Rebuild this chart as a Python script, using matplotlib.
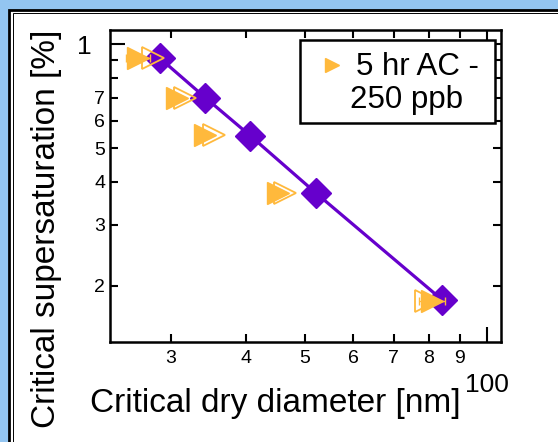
import numpy as np
import matplotlib.pyplot as plt
from matplotlib.patches import Rectangle
from matplotlib.lines import Line2D
from matplotlib.ticker import FixedLocator, FixedFormatter

plt.rcParams['font.family'] = ['Liberation Sans', 'DejaVu Sans']

W, H = 558, 442

# purple diamonds + line
dia_x = [28.8, 34.2, 40.6, 52.2, 84.3]
dia_y = [0.909, 0.700, 0.543, 0.370, 0.182]

# orange triangles (filled and open), same supersaturations
tri_y = [0.909, 0.700, 0.545, 0.372, 0.181]
tri_fill_x = [26.5, 30.7, 34.2, 45.1, 81.0]
tri_open_x = [28.0, 31.7, 35.4, 46.4, 79.2]
tri_xerr = [1.2, 0.4, 0.4, 0.5, 4.0]

x_minor = [30, 40, 50, 60, 70, 80, 90]
x_minor_labels = ['3', '4', '5', '6', '7', '8', '9']
y_minor = [0.2, 0.3, 0.4, 0.5, 0.6, 0.7, 0.8, 0.9]
y_minor_labels = ['2', '3', '4', '5', '6', '7', '', '']

purple = '#6600cc'
orange = '#ffb93c'


def fx(x):
    return x / W


def fy(y):
    return 1 - y / H


fig = plt.figure(figsize=(W / 100, H / 100), dpi=100)
fig.patch.set_facecolor('#93c5f1')

# white panel with double black frame
fig.add_artist(Rectangle((fx(9), -0.05), 1.1, fy(10) + 0.05, transform=fig.transFigure,
                         facecolor='white', edgecolor='black', lw=2.0, zorder=0))
fig.add_artist(Rectangle((fx(12.5), -0.05), 1.1, fy(13.3) + 0.05, transform=fig.transFigure,
                         facecolor='none', edgecolor='black', lw=0.7, zorder=0))

ax = fig.add_axes([fx(110), fy(342), (501 - 110) / W, (342 - 30) / H])
ax.set_facecolor('white')
ax.set_xscale('log')
ax.set_yscale('log')
ax.set_xlim(23.8, 105.35)
ax.set_ylim(0.1377, 1.098)

ax.plot(dia_x, dia_y, '-', color=purple, lw=2.3, zorder=2)
ax.plot(dia_x, dia_y, 'D', color=purple, ms=15, zorder=3)
ax.errorbar(tri_fill_x, tri_y, xerr=tri_xerr, fmt='>', color=orange, ms=16,
            capsize=3, elinewidth=1, capthick=1, zorder=4)
ax.plot(tri_open_x, tri_y, '>', mfc='none', mec=orange, ms=16, mew=1.3, zorder=4)

ax.xaxis.set_major_locator(FixedLocator([100]))
ax.xaxis.set_major_formatter(FixedFormatter(['100']))
ax.xaxis.set_minor_locator(FixedLocator(x_minor))
ax.xaxis.set_minor_formatter(FixedFormatter(x_minor_labels))
ax.yaxis.set_major_locator(FixedLocator([1]))
ax.yaxis.set_major_formatter(FixedFormatter(['1']))
ax.yaxis.set_minor_locator(FixedLocator(y_minor))
ax.yaxis.set_minor_formatter(FixedFormatter(y_minor_labels))

ax.tick_params(which='both', direction='in', top=True, right=True, width=1.5, colors='black')
ax.tick_params(which='major', length=11, labelsize=19)
ax.tick_params(which='minor', length=6, labelsize=14)
ax.tick_params(axis='x', which='major', pad=22)
ax.tick_params(axis='x', which='minor', pad=6)
ax.tick_params(axis='y', which='major', pad=13)
ax.tick_params(axis='y', which='minor', pad=3.5)
for s in ax.spines.values():
    s.set_linewidth(1.8)

fig.text(fx(275), fy(411.7), 'Critical dry diameter [nm]', ha='center', va='baseline', fontsize=24)
fig.text(fx(55), fy(229), 'Critical supersaturation [%]', ha='center', va='baseline',
         rotation=90, rotation_mode='anchor', fontsize=24)

# legend box
fig.add_artist(Rectangle((fx(300), fy(123)), (495 - 300) / W, (123 - 40) / H, transform=fig.transFigure,
                         facecolor='white', edgecolor='black', lw=1.8, zorder=5))
fig.add_artist(Line2D([fx(331.7)], [fy(65)], marker='>', color=orange, ms=10, ls='none',
                      transform=fig.transFigure, zorder=6))
fig.text(fx(356), fy(66.7), '5 hr AC -', ha='left', va='center', fontsize=22.5, zorder=6)
fig.text(fx(350), fy(100), '250 ppb', ha='left', va='center', fontsize=22.5, zorder=6)

fig.savefig('out.png', dpi=100, facecolor=fig.get_facecolor())
